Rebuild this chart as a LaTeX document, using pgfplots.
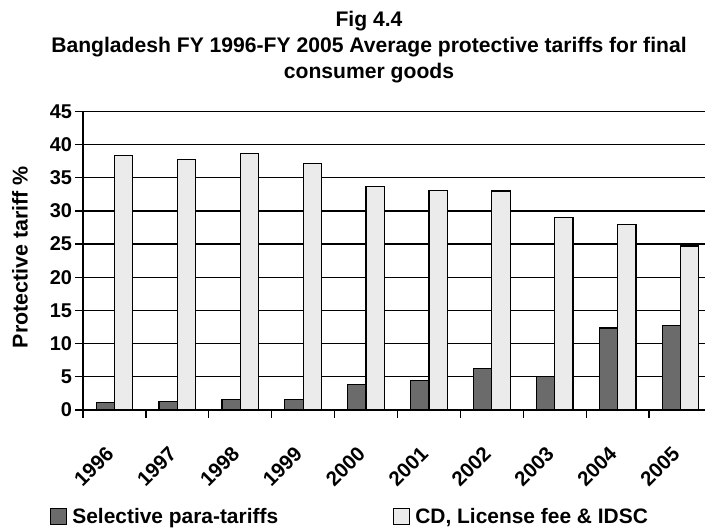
\documentclass[border=0pt]{standalone}
\usepackage{fontspec}
\setmainfont{Liberation Sans}
\usepackage{pgfplots}
\pgfplotsset{compat=1.18}
\pgfplotsset{sqlegend/.style={legend image code/.code={\draw[##1] (0bp,-8bp) rectangle (16bp,8bp);}}}
\begin{document}
\begin{tikzpicture}
\begin{axis}[
  scale only axis, width=622bp, height=298.7bp,
  xmin=-0.5, xmax=9.389, ymin=0, ymax=45,
  ybar=0pt, bar width=0.291,
  axis lines*=left,
  axis line style={black, line width=1.3bp},
  ytick={0,5,...,45},
  yticklabels={\textbf{0},\textbf{5},\textbf{10},\textbf{15},\textbf{20},\textbf{25},\textbf{30},\textbf{35},\textbf{40},\textbf{45}},
  ymajorgrids, grid style={black, line width=1.3bp},
  xtick={-0.5,0.5,...,8.5},
  xticklabels={\textbf{1996},\textbf{1997},\textbf{1998},\textbf{1999},\textbf{2000},\textbf{2001},\textbf{2002},\textbf{2003},\textbf{2004},\textbf{2005}},
  tick align=outside, major tick length=7.5bp,
  tick style={black, line width=1.3bp},
  yticklabel style={font=\fontsize{20}{24}\selectfont},
  xticklabel style={inner sep=0pt, xshift=27bp, yshift=-33bp, rotate=45, anchor=east,
    font=\fontsize{20.5}{24}\selectfont},
  ylabel={Protective tariff \%},
  ylabel style={at={(axis description cs:-0.1013,0.512)}, anchor=center, inner sep=0pt,
    font=\fontsize{21.5}{25}\selectfont\bfseries},
  title={Fig 4.4\\Bangladesh FY 1996-FY 2005 Average protective tariffs for final\\consumer goods},
  title style={at={(axis description cs:0.4598,1.3157)}, anchor=north, inner sep=0pt, align=center,
    font=\fontsize{21.2}{26.3}\selectfont\bfseries},
  legend columns=2,
  legend style={draw=none, fill=none, at={(axis description cs:-0.0531,-0.3566)}, anchor=west,
    inner sep=0pt, font=\fontsize{21}{25}\selectfont\bfseries,
    nodes={inner sep=0pt},
    /tikz/every odd column/.append style={column sep=5bp},
    /tikz/every even column/.append style={column sep=115bp}},
]
\addplot[draw=black, line width=1.2bp, fill=black!58, sqlegend]
  coordinates {(0,1.1) (1,1.3) (2,1.6) (3,1.55) (4,3.8) (5,4.4) (6,6.3) (7,5.1) (8,12.35) (9,12.7)};
\addlegendentry{Selective para-tariffs}
\addplot[draw=black, line width=1.2bp, fill=black!8, sqlegend]
  coordinates {(0,38.4) (1,37.7) (2,38.7) (3,37.1) (4,33.7) (5,33.1) (6,33.0) (7,29.0) (8,27.9) (9,24.7)};
\addlegendentry{CD, License fee \& IDSC}
\coordinate (O) at (rel axis cs:0,0);
\end{axis}
\pgfresetboundingbox
\path[use as bounding box] ([shift={(-83bp,-119bp)}]O) rectangle ([shift={(622bp,410bp)}]O);
\end{tikzpicture}
\end{document}
